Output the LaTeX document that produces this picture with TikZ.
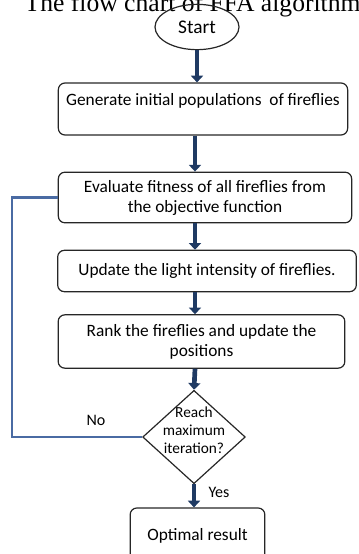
\documentclass[tikz,border=0pt]{standalone}
\usepackage{fontspec}
\setmainfont{Carlito}
\newfontfamily\titlefont{Liberation Serif}
\definecolor{FlowNavy}{HTML}{1F3A63}
\definecolor{LoopBlue}{HTML}{4A6BA3}
\usetikzlibrary{arrows.meta,positioning,shapes.geometric}

\begin{document}
\begin{tikzpicture}[x=0.75pt,y=-0.75pt,
  font=\fontsize{13pt}{15pt}\selectfont,
  stepbox/.style={draw=black!85,line width=0.9pt,rounded corners=5pt,align=center,inner sep=2pt},
  flow/.style={-{Triangle[length=5pt,width=9pt]},line width=3.5pt,FlowNavy},
  loopline/.style={line width=2.2pt,LoopBlue}]
  \useasboundingbox (0,0) rectangle (358,554);
  \node[anchor=base west,font=\titlefont\fontsize{19.2pt}{22pt}\selectfont] (title) at (20,11) {The flow chart of FFA algorithm};
  \node[draw=black!85,line width=0.9pt,ellipse,inner sep=0pt,minimum width=63pt,minimum height=34pt,font=\fontsize{14.5pt}{16pt}\selectfont] (start) at (197,27) {Start};
  \node[stepbox,minimum width=217pt,minimum height=39pt] (gen) at (203,109) {Generate initial populations~ of fireflies\\\mbox{}};
  \node[stepbox,minimum width=220pt,minimum height=38pt] (eval) at (205,197.5) {Evaluate fitness of all fireflies from\\the objective function};
  \node[stepbox,minimum width=224pt,minimum height=31pt] (light) at (207,271) {Update the light intensity of fireflies.};
  \node[stepbox,minimum width=215pt,minimum height=40pt] (rank) at (201.5,341.5) {Rank the fireflies and update the\\positions};
  \node[draw=black!85,line width=0.9pt,diamond,inner sep=0pt,minimum width=77pt,minimum height=70pt] (chk) at (194,437) {};
  \node[align=center,font=\fontsize{11.5pt}{13.5pt}\selectfont] (chktext) at (194,430) {Reach\\maximum\\iteration?};
  \node[stepbox,minimum width=101pt,minimum height=42pt] (opt) at (197.5,536) {Optimal result};
  \node[font=\fontsize{12pt}{14pt}\selectfont] (no) at (96,420) {No};
  \node[font=\fontsize{12pt}{14pt}\selectfont] (yes) at (219,492) {Yes};
  \coordinate (axis) at (195,0);
  \coordinate (loopx) at (12,0);
  % main flow
  \draw[flow] (start.south) -- (start.south |- gen.north);
  \draw[flow] (axis |- gen.south) -- (axis |- eval.north);
  \draw[flow] (axis |- eval.south) -- (axis |- light.north);
  \draw[flow] (axis |- light.south) -- (axis |- rank.north);
  \draw[flow] (axis |- rank.south) -- (chk.north);
  \draw[flow] (chk.south) -- (chk.south |- opt.north);
  % back to evaluation
  \draw[loopline] (chk.west) -- (chk.west -| loopx) |- (eval.west);
\end{tikzpicture}
\end{document}
